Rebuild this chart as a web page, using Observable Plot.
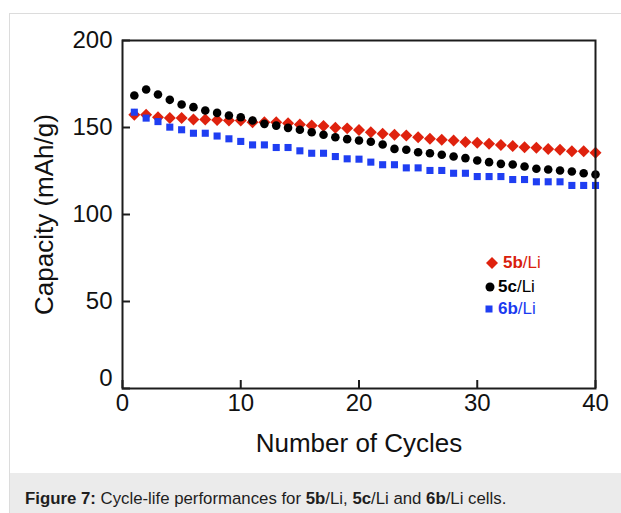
<!DOCTYPE html>
<html>
<head>
<meta charset="utf-8">
<script src="https://cdn.jsdelivr.net/npm/d3@7"></script>
<script src="https://cdn.jsdelivr.net/npm/@observablehq/plot@0.6"></script>
<style>
  html, body { margin: 0; padding: 0; background: #fff; width: 621px; height: 513px; overflow: hidden; }
  body { font-family: "Liberation Sans", Arial, Helvetica, sans-serif; position: relative; }
  #box { position: absolute; left: 9px; top: 13px; width: 640px; height: 520px; border-left: 1px solid #dcdcdc; border-top: 1px solid #dcdcdc; }
  #chart { position: absolute; left: 0; top: 0; }
  #caption { position: absolute; left: 0; top: 459px; width: 640px; height: 60px; background: #ebebeb; }
  #caption span.t { position: absolute; left: 15px; top: 18px; font-size: 16.8px; line-height: 16.8px; color: #1e1e1e; white-space: nowrap; }
  .leg { position: absolute; font-size: 17px; line-height: 20px; height: 20px; white-space: nowrap; }
  .mk { position: absolute; }
</style>
</head>
<body>
<div id="box">
  <div id="chart"></div>
  <div id="legend"></div>
  <div id="caption"><span class="t"><b>Figure 7:</b> Cycle-life performances for <b>5b</b>/Li, <b>5c</b>/Li and <b>6b</b>/Li cells.</span></div>
</div>
<script>
const cycles = [1,2,3,4,5,6,7,8,9,10,11,12,13,14,15,16,17,18,19,20,21,22,23,24,25,26,27,28,29,30,31,32,33,34,35,36,37,38,39,40];
const cap5b = [157.3,157.3,155.9,155.4,155.4,154.6,154.6,154.3,154.0,154.0,153.0,153.0,153.0,152.5,151.7,151.1,150.8,149.8,149.5,148.5,147.3,146.4,145.8,145.4,144.4,143.5,142.9,142.5,141.6,141.2,140.6,140.0,139.3,138.7,138.3,137.7,137.2,136.4,136.4,135.5];
const cap5c = [168.4,171.8,169.0,165.9,163.2,161.7,159.8,158.4,156.9,155.9,154.0,152.1,151.1,149.8,148.7,147.3,145.8,144.4,143.3,142.5,141.8,140.2,137.7,137.2,135.8,135.2,134.3,133.3,132.4,131.0,130.1,129.1,128.7,127.6,126.3,125.9,125.3,124.7,123.7,123.0];
const cap6b = [158.8,155.4,153.4,150.2,148.7,146.7,146.7,145.1,143.5,142.0,140.0,140.0,138.5,138.5,136.6,135.2,135.2,133.3,132.0,131.8,130.1,128.6,128.6,126.8,126.8,125.3,125.3,123.7,123.7,121.8,121.8,121.8,120.1,120.1,118.8,118.8,118.8,116.7,116.7,116.7];
const xTicks = [0,10,20,30,40];
const yTicks = [0,50,100,150,200];
const xLabel = "Number of Cycles";
const yLabel = "Capacity (mAh/g)";
const seriesNames = ["5b", "5c", "6b"];
const seriesSuffix = "/Li";

const RED = "#df220e", BLACK = "#000000", BLUE = "#1f3ef2";

const W = 611, H = 459, ML = 112, MR = 26, MT = 26, MB = 85;
const FW = W - ML - MR, FH = H - MT - MB;
const AX = "#1c1c1c";

const chart = Plot.plot({
  width: W, height: H,
  marginLeft: ML, marginRight: MR, marginTop: MT, marginBottom: MB,
  style: { fontFamily: "'Liberation Sans', Arial, sans-serif", fontSize: "24px", color: "#111", background: "white", overflow: "visible" },
  x: { domain: [0, 40] },
  y: { domain: [0, 200] },
  marks: [
    Plot.axisX(xTicks, { tickSize: 0, tickPadding: 5, label: null, fontSize: 24, tickFormat: d => String(d) }),
    Plot.axisY(yTicks.filter(d => d !== 0), { tickSize: 0, tickPadding: 10, label: null, fontSize: 24, tickFormat: d => String(d) }),
    Plot.axisY(yTicks.filter(d => d === 0), { tickSize: 0, tickPadding: 10, label: null, fontSize: 24, dy: -10, tickFormat: d => String(d) }),
    Plot.dot(cycles, { x: d => d, y: (d, i) => cap5b[i], symbol: "diamond2", r: 5.4, fill: RED, stroke: "none" }),
    Plot.dot(cycles, { x: d => d, y: (d, i) => cap5c[i], symbol: "circle", r: 4.3, fill: BLACK, stroke: "none" }),
    Plot.dot(cycles, { x: d => d, y: (d, i) => cap6b[i], symbol: "square", r: 4, fill: BLUE, stroke: "none" }),
    Plot.tickY(yTicks, { y: d => d, insetRight: FW - 8, stroke: AX, strokeWidth: 2 }),
    Plot.tickX(xTicks, { x: d => d, insetTop: FH - 8, stroke: AX, strokeWidth: 2 }),
    Plot.frame({ stroke: AX, strokeWidth: 2 }),
    Plot.text([xLabel], { text: d => d, frameAnchor: "bottom", dy: 63, fontSize: 26, fill: "#111" }),
    Plot.text([yLabel], { text: d => d, frameAnchor: "left", textAnchor: "middle", dx: -78, rotate: -90, fontSize: 26, fill: "#111" })
  ]
});
document.getElementById("chart").appendChild(chart);

// legend (positions relative to #box: page coords minus (10,14))
const legend = document.getElementById("legend");
const legItems = [
  { name: seriesNames[0], color: "#d9200c", cy: 263, mx: 492, tx: 503, shape: "diamond" },
  { name: seriesNames[1], color: "#000", cy: 287, mx: 490, tx: 498, shape: "circle" },
  { name: seriesNames[2], color: "#1a3af0", cy: 309, mx: 489, tx: 498, shape: "square" }
];
legItems.forEach(it => {
  const s = 16;
  const svg = d3.create("svg").attr("class", "mk").attr("width", s).attr("height", s)
    .style("left", (it.mx - 10 - s / 2) + "px").style("top", (it.cy - 14 - s / 2) + "px");
  const c = s / 2;
  if (it.shape === "diamond") svg.append("path").attr("d", `M${c},${c-6}L${c+6},${c}L${c},${c+6}L${c-6},${c}Z`).attr("fill", RED);
  else if (it.shape === "circle") svg.append("circle").attr("cx", c).attr("cy", c).attr("r", 4.5).attr("fill", "#000");
  else svg.append("rect").attr("x", c - 3.5).attr("y", c - 3.5).attr("width", 7).attr("height", 7).attr("fill", BLUE);
  legend.appendChild(svg.node());
  const t = document.createElement("div");
  t.className = "leg";
  t.style.left = (it.tx - 10) + "px";
  t.style.top = (it.cy - 14 - 10) + "px";
  t.style.color = it.color;
  t.innerHTML = `<b>${it.name}</b>${seriesSuffix}`;
  legend.appendChild(t);
});
</script>
</body>
</html>
